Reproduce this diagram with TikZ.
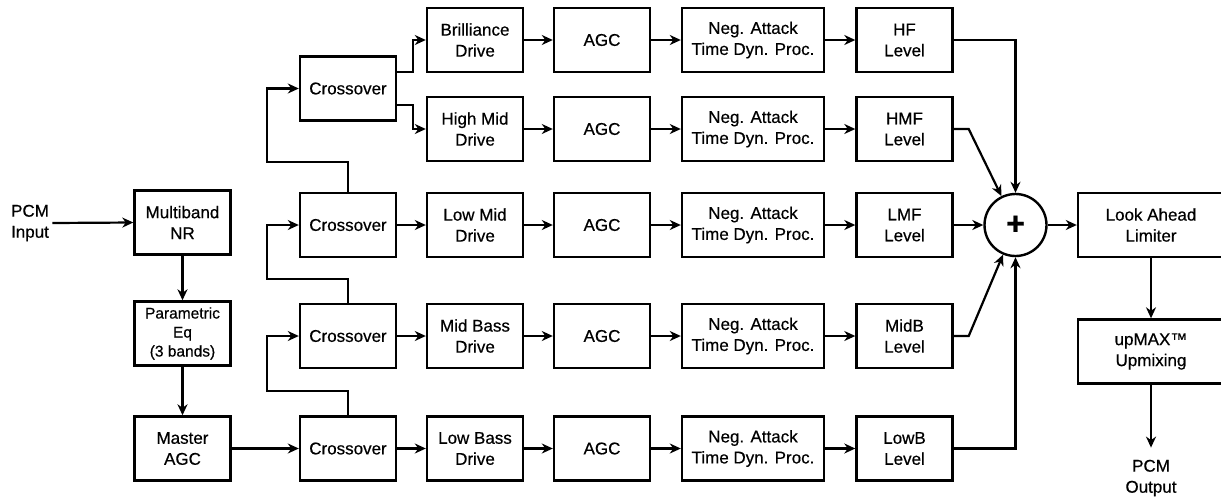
\documentclass[tikz,border=0pt]{standalone}
\usepackage{fontspec}
\setmainfont{Liberation Sans}[FakeBold=0.5]
\usetikzlibrary{positioning,arrows.meta,calc}
\tikzset{
  blk/.style={draw,line width=2.4pt,minimum width=96pt,minimum height=64pt,
    align=center,inner sep=1pt,font=\fontsize{17}{21}\selectfont},
  wideblk/.style={blk,minimum width=142pt},
  sig/.style={-{Stealth[length=11pt,width=10pt,inset=3.5pt]},line width=2.2pt},
  sumnd/.style={circle,draw,line width=2.4pt,minimum size=62pt,inner sep=0pt},
  lbl/.style={align=center,font=\fontsize{17}{21}\selectfont},
}
\begin{document}
\begin{tikzpicture}[x=1pt,y=-1pt]
  \useasboundingbox (0,0) rectangle (1221,499);
  % input chain
  \node[lbl] (pcmin) at (30,223) {PCM\\Input};
  \node[blk] (mnr) at (182.5,222.5) {Multiband\\NR};
  \node[blk,font=\fontsize{15.5}{19}\selectfont] (peq) at (182.5,333.5) {Parametric\\Eq\\(3 bands)};
  \node[blk] (magc) at (182.5,448.5) {Master\\AGC};
  \draw[sig] (pcmin.east) -- (mnr.west);
  \draw[sig] (mnr) -- (peq);
  \draw[sig] (peq) -- (magc);
  % crossover tree
  \node[blk] (x1) at (348,88.5) {Crossover};
  \node[blk] (x2) at (348,225) {Crossover};
  \node[blk] (x3) at (348,336) {Crossover};
  \node[blk] (x4) at (348,448.5) {Crossover};
  \draw[sig] (magc) -- (x4);
  \draw[sig] (x2.north) -- ++(0,-30) -| ([xshift=-32pt]x1.west) -- (x1.west);
  \draw[sig] (x3.north) -- ++(0,-24) -| ([xshift=-32pt]x2.west) -- (x2.west);
  \draw[sig] (x4.north) -- ++(0,-24) -| ([xshift=-32pt]x3.west) -- (x3.west);
  % band rows
  \foreach \r/\y/\drv/\lvl in {1/40/{Brilliance\\Drive}/{HF\\Level},
      2/129/{High Mid\\Drive}/{HMF\\Level},3/225/{Low Mid\\Drive}/{LMF\\Level},
      4/336/{Mid Bass\\Drive}/{MidB\\Level},5/448.5/{Low Bass\\Drive}/{LowB\\Level}}{
    \node[blk] (d\r) at (475,\y) {\drv};
    \node[blk] (a\r) at (602,\y) {AGC};
    \node[wideblk] (n\r) at (753,\y) {Neg. Attack\\Time Dyn. Proc.};
    \node[blk] (l\r) at (904.5,\y) {\lvl};
    \draw[sig] (d\r) -- (a\r);
    \draw[sig] (a\r) -- (n\r);
    \draw[sig] (n\r) -- (l\r);
  }
  \draw[sig] ([yshift=16.5pt]x1.east) -- ++(16,0) |- (d1.west);
  \draw[sig] ([yshift=-16.5pt]x1.east) -- ++(16,0) |- (d2.west);
  \draw[sig] (x2) -- (d3);
  \draw[sig] (x3) -- (d4);
  \draw[sig] (x4) -- (d5);
  % summing and output
  \node[sumnd,font=\fontsize{32}{32}\selectfont\bfseries] (sum) at (1015.5,225) {+};
  \node[wideblk,minimum width=146pt] (lal) at (1151,225) {Look Ahead\\Limiter};
  \node[wideblk,minimum width=146pt] (upm) at (1151,351.5) {upMAX™\\Upmixing};
  \node[lbl,inner ysep=12pt] (pcmout) at (1151,478) {PCM\\Output};
  \draw[sig] (l1.east) -| (sum.north);
  \draw[sig] (l2.east) -- ++(15,0) -- (sum);
  \draw[sig] (l3) -- (sum);
  \draw[sig] (l4.east) -- ++(15,0) -- (sum);
  \draw[sig] (l5.east) -| (sum.south);
  \draw[sig] (sum) -- (lal);
  \draw[sig] (lal) -- (upm);
  \draw[sig] (upm) -- (pcmout);
\end{tikzpicture}
\end{document}
